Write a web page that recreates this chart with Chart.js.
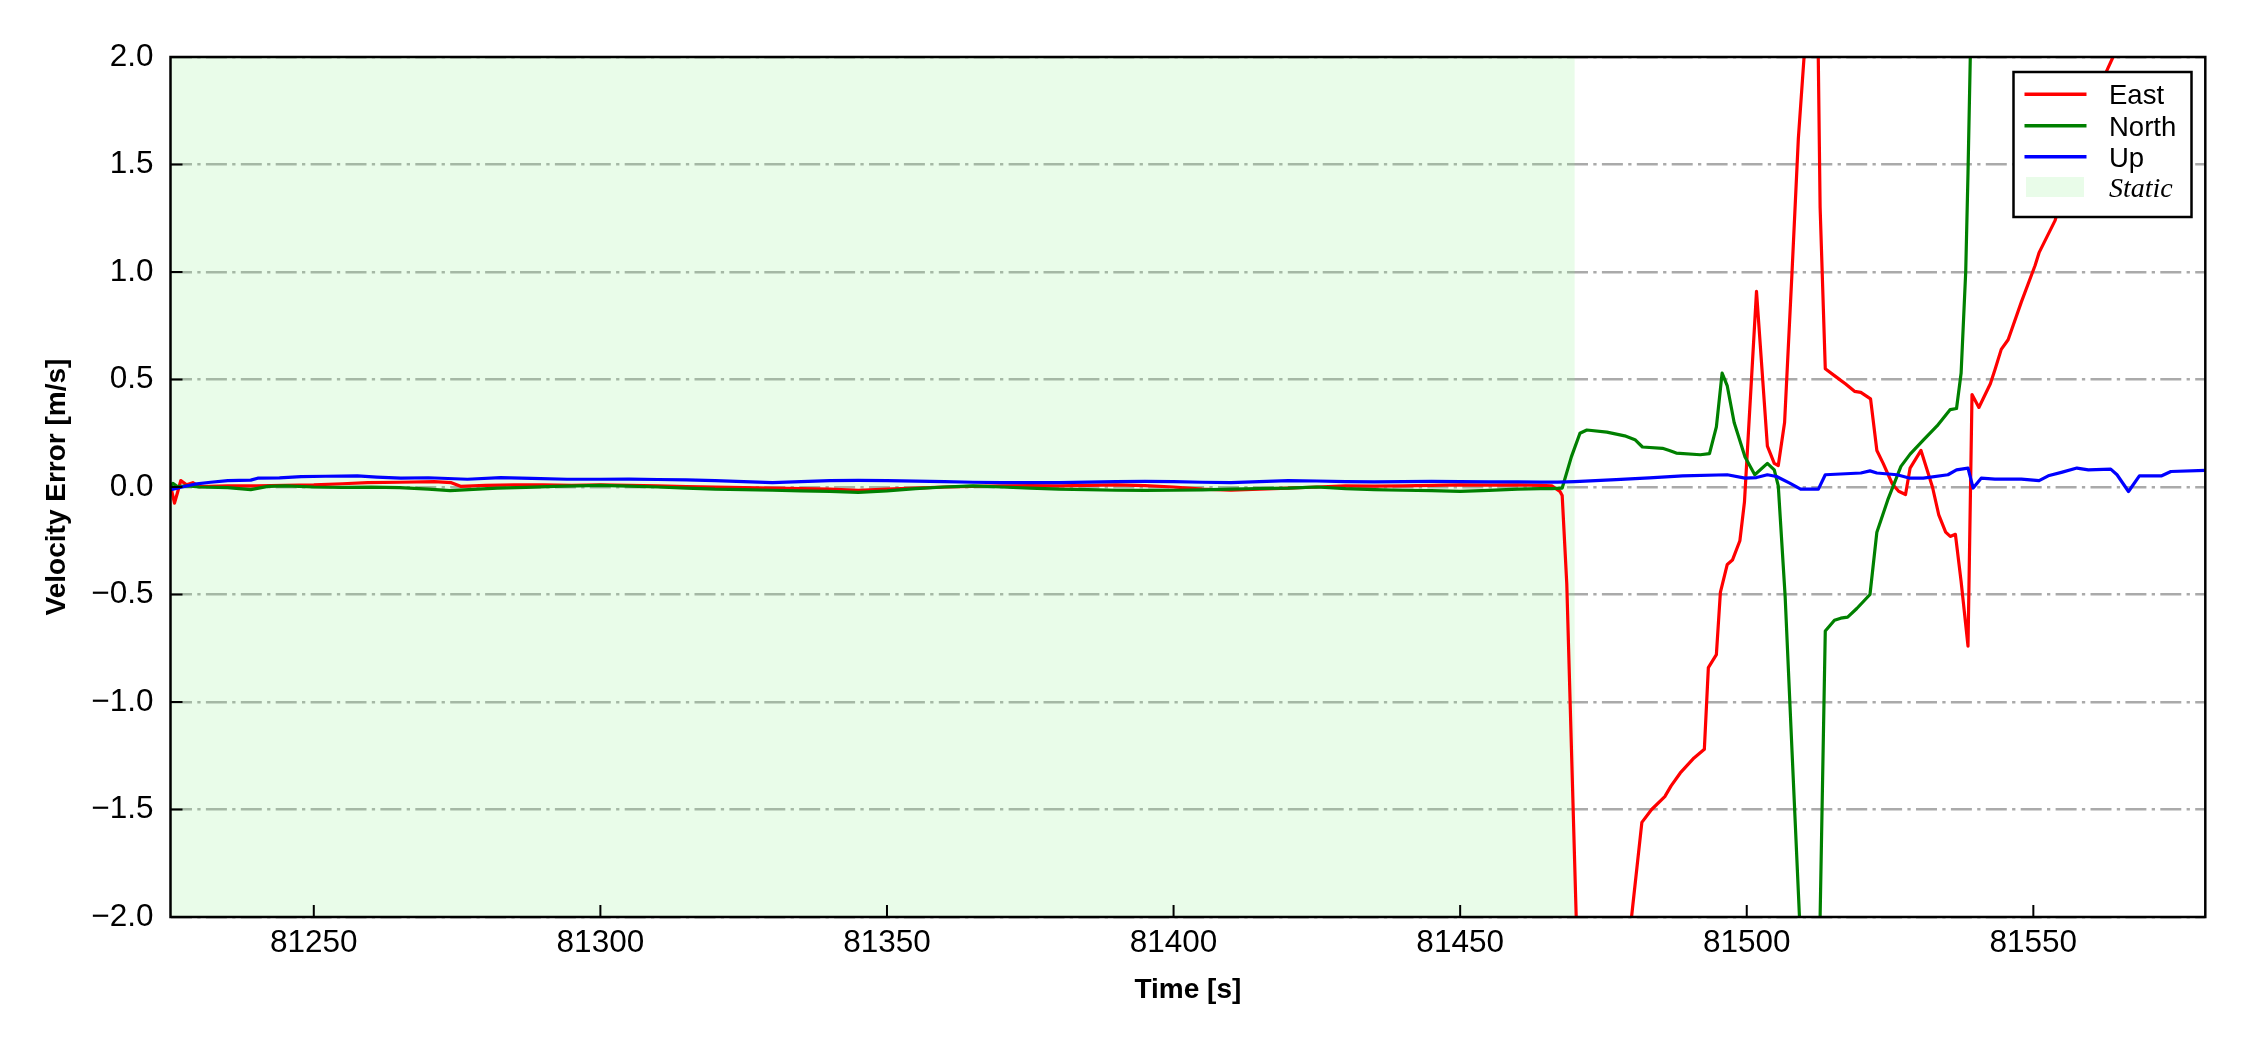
<!DOCTYPE html>
<html><head><meta charset="utf-8">
<script src="https://cdn.jsdelivr.net/npm/chart.js@4.4.1/dist/chart.umd.min.js"></script>
<style>html,body{margin:0;padding:0;background:#fff;}#wrap{width:2250px;height:1050px;position:relative;}</style>
</head><body><div id="wrap"><canvas id="c"></canvas></div>
<script>
const xMin = 81225, xMax = 81580;
const yMin = -2, yMax = 2;
const xTicks = [81250, 81300, 81350, 81400, 81450, 81500, 81550];
const xTickLabels = ['81250', '81300', '81350', '81400', '81450', '81500', '81550'];
const yTicks = [-2, -1.5, -1, -0.5, 0, 0.5, 1, 1.5, 2];
const yTickLabels = ['\u22122.0', '\u22121.5', '\u22121.0', '\u22120.5', '0.0', '0.5', '1.0', '1.5', '2.0'];
const staticSpan = [81225, 81470];
const seriesLabels = ['East', 'North', 'Up'];
const staticLabel = 'Static';

const eastTime = [81225.1, 81225.7, 81226.2, 81226.8, 81227.8, 81228.9, 81230, 81235, 81240, 81245, 81250, 81255, 81259.4, 81265, 81271, 81274, 81275.6, 81280, 81285, 81290, 81295, 81300, 81305, 81310, 81315, 81320, 81325, 81330, 81335, 81340, 81345, 81350, 81355, 81360, 81365, 81370, 81375, 81380, 81385, 81390, 81395, 81400, 81405, 81410, 81415, 81420, 81425, 81430, 81435, 81440, 81445, 81450, 81455, 81460, 81464, 81466,
  81467.4, 81467.8, 81468.6, 81470.3, 81473, 81477, 81479.9, 81481.7, 81483.4, 81485.7, 81486.8, 81488.4, 81490.8, 81492.6, 81493.3, 81494.7, 81495.4, 81496.6, 81497.5, 81498.8, 81499.6, 81501.7, 81503.6, 81504.8, 81505.5, 81506.6, 81507.9, 81509.0, 81510, 81511, 81512.2, 81512.8, 81513.7, 81515.7, 81517.2, 81518.8, 81519.9, 81521.6, 81522.7, 81523.8, 81525.4, 81526.5, 81527.7, 81528.5, 81530.4, 81532.4, 81533.5, 81534.7, 81535.5, 81536.4, 81537.4, 81538.6, 81539.3, 81540.5, 81542.5, 81543.3, 81544.4, 81545.6, 81547.9, 81550.3, 81551.0, 81553.8, 81556, 81559, 81562.7, 81563.9, 81570, 81580];
const eastVel = [-0.005, -0.075, -0.028, 0.03, 0.01, 0.02, 0.002, 0.005, 0.005, 0.008, 0.01, 0.015, 0.02, 0.022, 0.025, 0.02, 0.003, 0.008, 0.01, 0.01, 0.008, 0.01, 0.008, 0.005, 0.002, 0.0, -0.003, -0.005, -0.008, -0.01, -0.015, -0.01, -0.005, 0.0, 0.003, 0.005, 0.006, 0.005, 0.008, 0.01, 0.006, 0.0, -0.01, -0.015, -0.01, -0.005, 0.0, 0.005, 0.004, 0.005, 0.008, 0.01, 0.009, 0.01, 0.008, 0.005,
  -0.02, -0.04, -0.45, -2.05, -2.8, -2.6, -2.0, -1.56, -1.50, -1.44, -1.39, -1.33, -1.26, -1.22, -0.84, -0.78, -0.49, -0.36, -0.34, -0.25, -0.07, 0.91, 0.19, 0.11, 0.10, 0.30, 1.0, 1.62, 2.0, 2.6, 2.6, 1.3, 0.55, 0.51, 0.48, 0.445, 0.44, 0.41, 0.17, 0.11, 0.014, -0.02, -0.035, 0.088, 0.17, 0.0, -0.13, -0.21, -0.23, -0.22, -0.44, -0.74, 0.43, 0.37, 0.48, 0.545, 0.64, 0.685, 0.86, 1.03, 1.09, 1.24, 1.45, 1.68, 1.93, 2.0, 2.5, 3.2];

const northTime = [81225.1, 81225.4, 81226.2, 81228, 81230, 81235, 81239, 81242, 81245, 81250, 81255, 81260, 81265, 81270, 81273.8, 81277, 81282, 81287, 81292, 81296, 81300, 81305, 81310, 81315, 81320, 81325, 81330, 81335, 81340, 81345, 81350, 81355, 81360, 81365, 81370, 81375, 81380, 81385, 81390, 81395, 81400, 81405, 81410, 81415, 81420, 81425, 81430, 81435, 81440, 81445, 81450, 81455, 81460, 81464, 81466,
  81467.8, 81469.4, 81470.9, 81472.1, 81475.6, 81478.7, 81480.5, 81481.8, 81485.3, 81486.5, 81487.7, 81491.9, 81493.5, 81494.7, 81495.7, 81496.6, 81497.8, 81499.7, 81501.4, 81503.6, 81504.8, 81505.5, 81506.7, 81507.9, 81509.2, 81511, 81512.5, 81512.8, 81513.7, 81515.3, 81516.4, 81517.6, 81519.2, 81521.5, 81522.7, 81524.6, 81526.9, 81528.5, 81530.8, 81533.2, 81535.5, 81536.6, 81537.4, 81538.2, 81538.6, 81539, 81541, 81580];
const northVel = [0.005, 0.017, 0.002, 0.005, 0.0, -0.003, -0.012, 0.003, 0.005, 0.0, -0.002, -0.001, -0.003, -0.01, -0.017, -0.012, -0.005, -0.002, 0.003, 0.005, 0.008, 0.004, 0.0, -0.005, -0.01, -0.012, -0.015, -0.018, -0.02, -0.025, -0.018, -0.008, 0.0, 0.005, 0.0, -0.005, -0.01, -0.012, -0.015, -0.016, -0.015, -0.013, -0.01, -0.007, -0.005, 0.0, -0.008, -0.012, -0.015, -0.017, -0.02, -0.016, -0.01, -0.008, -0.008,
  -0.005, 0.14, 0.25, 0.265, 0.255, 0.238, 0.22, 0.186, 0.18, 0.17, 0.158, 0.15, 0.155, 0.28, 0.53, 0.47, 0.30, 0.14, 0.057, 0.11, 0.08, 0.005, -0.51, -1.23, -2.0, -2.7, -2.3, -2.0, -0.67, -0.62, -0.61, -0.605, -0.565, -0.50, -0.21, -0.06, 0.096, 0.153, 0.218, 0.284, 0.36, 0.365, 0.53, 1.0, 1.46, 2.0, 3.0, 4.0];

const upTime = [81225.1, 81227, 81229.2, 81232, 81235, 81239, 81240.2, 81244, 81247.8, 81252, 81257.6, 81261, 81265.2, 81270, 81276.8, 81282.6, 81288, 81294.2, 81300, 81305, 81310, 81315, 81320, 81325, 81330, 81335, 81340, 81345, 81350, 81355, 81360, 81365, 81370, 81375, 81380, 81385, 81390, 81395, 81400, 81405, 81410, 81415, 81420, 81425, 81430, 81435, 81440, 81445, 81450, 81455, 81460, 81464,
  81467, 81470, 81477.2, 81483, 81488.8, 81496.6, 81499.7, 81501.7, 81503.6, 81505.2, 81507.5, 81509.4, 81512.5, 81513.7, 81519.9, 81521.5, 81522.7, 81526.2, 81528.5, 81530.8, 81535.1, 81536.6, 81538.6, 81539.5, 81540.9, 81543.3, 81547.9, 81551, 81552.6, 81554.9, 81557.6, 81559.6, 81563.5, 81564.6, 81566.6, 81568.5, 81572.4, 81574, 81580];
const upVel = [-0.012, 0.0, 0.013, 0.022, 0.03, 0.032, 0.041, 0.042, 0.048, 0.05, 0.052, 0.046, 0.041, 0.043, 0.036, 0.044, 0.04, 0.036, 0.036, 0.037, 0.035, 0.033, 0.03, 0.025, 0.02, 0.025, 0.03, 0.031, 0.03, 0.027, 0.025, 0.022, 0.02, 0.02, 0.02, 0.023, 0.025, 0.026, 0.025, 0.022, 0.02, 0.025, 0.03, 0.028, 0.025, 0.024, 0.025, 0.026, 0.025, 0.024, 0.024, 0.023,
  0.023, 0.025, 0.034, 0.042, 0.052, 0.057, 0.041, 0.044, 0.057, 0.049, 0.018, -0.01, -0.01, 0.057, 0.065, 0.075, 0.065, 0.057, 0.041, 0.041, 0.057, 0.08, 0.088, -0.005, 0.041, 0.037, 0.037, 0.03, 0.052, 0.068, 0.088, 0.08, 0.083, 0.057, -0.021, 0.052, 0.052, 0.072, 0.077];

const toXY = (ts, vs) => ts.map((t, i) => ({x: t, y: vs[i]}));
const colors = ['#ff0000', '#008000', '#0000ff'];
const staticColor = 'rgba(144,238,144,0.2)';
const SANS = '"Liberation Sans", Arial, Helvetica, sans-serif';
const LW = 3.2;

const framePlugin = {
  id: 'frame',
  afterDatasetsDraw(chart) {
    const {ctx, chartArea: a, scales: {x, y}} = chart;
    ctx.save();
    ctx.setLineDash([]);
    ctx.strokeStyle = '#000';
    ctx.lineWidth = 2;
    ctx.beginPath();
    x.ticks.forEach(t => { const px = x.getPixelForValue(t.value); ctx.moveTo(px, a.bottom); ctx.lineTo(px, a.bottom - 12); });
    y.ticks.forEach(t => { const py = y.getPixelForValue(t.value); ctx.moveTo(a.left, py); ctx.lineTo(a.left + 12, py); });
    ctx.stroke();
    ctx.lineWidth = 2.5;
    ctx.strokeRect(a.left, a.top, a.right - a.left, a.bottom - a.top);

    // legend
    const bw = 178, bh = 145;
    const bx = a.right - 13.8 - bw, by = a.top + 15;
    ctx.fillStyle = '#fff';
    ctx.fillRect(bx, by, bw, bh);
    ctx.lineWidth = 2.5;
    ctx.strokeRect(bx, by, bw, bh);
    const ds = chart.data.datasets;
    const rowY = [22.3, 53.7, 84.7];
    ctx.textBaseline = 'alphabetic';
    ctx.textAlign = 'left';
    for (let i = 0; i < 3; i++) {
      ctx.strokeStyle = ds[i].borderColor;
      ctx.lineWidth = 3.6;
      ctx.beginPath();
      ctx.moveTo(bx + 11, by + rowY[i]);
      ctx.lineTo(bx + 73, by + rowY[i]);
      ctx.stroke();
      ctx.fillStyle = '#000';
      ctx.font = '27.5px ' + SANS;
      ctx.fillText(ds[i].label, bx + 95.5, by + rowY[i] + 10);
    }
    ctx.fillStyle = staticColor;
    ctx.fillRect(bx + 12.5, by + 105, 58, 20);
    ctx.fillStyle = '#000';
    ctx.font = 'italic 28px "Liberation Serif", "Times New Roman", serif';
    ctx.fillText(staticLabel, bx + 95.5, by + 124.7);
    ctx.restore();
  }
};

new Chart(document.getElementById('c'), {
  type: 'line',
  data: {
    datasets: [
      {label: seriesLabels[0], data: toXY(eastTime, eastVel), borderColor: colors[0], borderWidth: LW, pointRadius: 0, fill: false, order: 3},
      {label: seriesLabels[1], data: toXY(northTime, northVel), borderColor: colors[1], borderWidth: LW, pointRadius: 0, fill: false, order: 2},
      {label: seriesLabels[2], data: toXY(upTime, upVel), borderColor: colors[2], borderWidth: LW, pointRadius: 0, fill: false, order: 1},
      {label: staticLabel, data: [{x: staticSpan[0], y: yMax}, {x: staticSpan[1], y: yMax}], borderColor: 'rgba(0,0,0,0)', borderWidth: 1, backgroundColor: staticColor, pointRadius: 0, fill: {value: yMin}, order: 4}
    ]
  },
  options: {
    animation: false,
    responsive: true,
    maintainAspectRatio: false,
    devicePixelRatio: 1,
    events: [],
    layout: {padding: {left: 0, top: 57, right: 44.7, bottom: 0}},
    elements: {line: {tension: 0, borderJoinStyle: 'round', borderCapStyle: 'butt'}, point: {radius: 0}},
    plugins: {legend: {display: false}, tooltip: {enabled: false}},
    scales: {
      x: {
        type: 'linear', min: xMin, max: xMax,
        afterBuildTicks: s => { s.ticks = xTicks.map(v => ({value: v})); },
        afterFit: s => { s.height = 133; },
        grid: {display: false, drawTicks: false, tickLength: 0},
        border: {display: false},
        ticks: {
          font: {family: SANS, size: 31.5}, color: '#000', padding: 7.6, maxRotation: 0, autoSkip: false,
          callback: v => { const i = xTicks.indexOf(v); return i >= 0 ? xTickLabels[i] : ''; }
        },
        title: {display: true, text: 'Time [s]', color: '#000', font: {family: SANS, size: 28, weight: 'bold'}, padding: {top: 0, bottom: 43.2}}
      },
      y: {
        type: 'linear', min: yMin, max: yMax,
        afterBuildTicks: s => { s.ticks = yTicks.map(v => ({value: v})); },
        afterFit: s => { s.width = 170.5; },
        grid: {display: true, color: '#aaaaaa', lineWidth: 2.5, drawTicks: false, tickLength: 0},
        border: {display: false, dash: [21, 5.3, 3.3, 5.3]},
        ticks: {
          font: {family: SANS, size: 31.5}, color: '#000', padding: 17, autoSkip: false,
          callback: v => { const i = yTicks.indexOf(v); return i >= 0 ? yTickLabels[i] : ''; }
        },
        title: {display: true, text: 'Velocity Error [m/s]', color: '#000', font: {family: SANS, size: 28, weight: 'bold'}, padding: {top: 40.7, bottom: 0}}
      }
    }
  },
  plugins: [framePlugin]
});
</script></body></html>
